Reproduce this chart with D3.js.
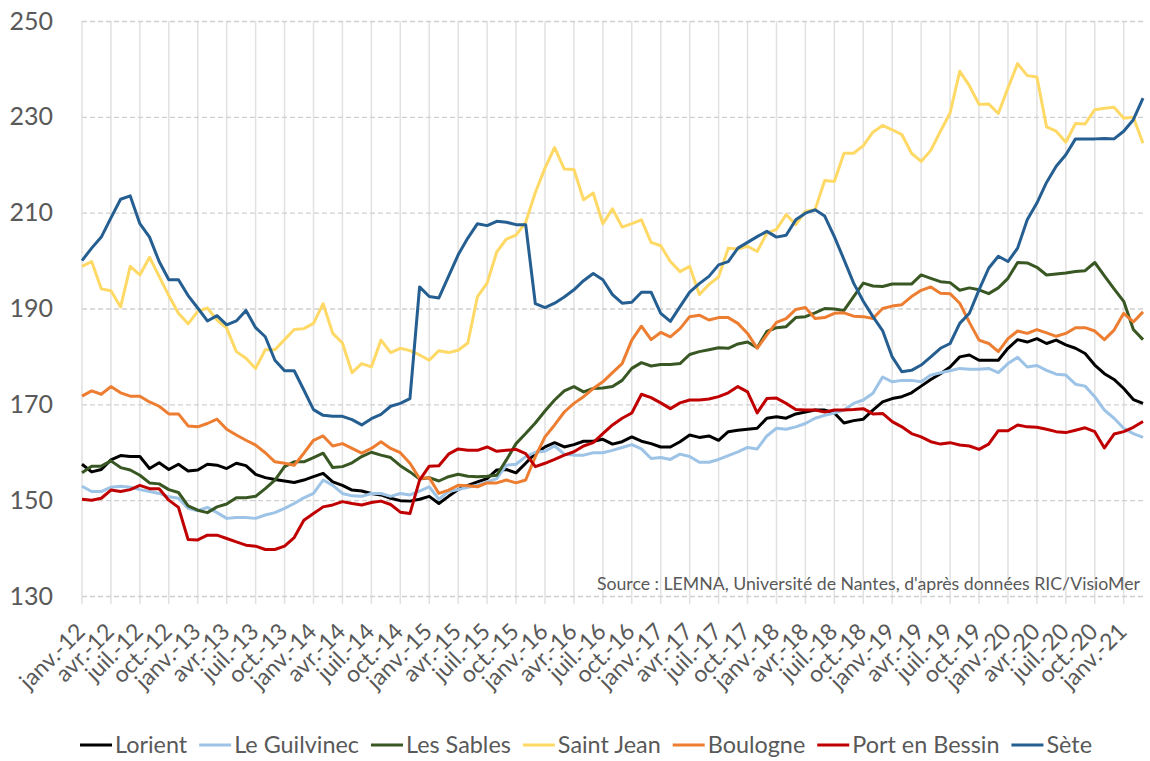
<!DOCTYPE html>
<html>
<head>
<meta charset="utf-8">
<script src="https://cdn.jsdelivr.net/npm/d3@7"></script>
<style>
  body { margin: 0; background: #fff; }
  svg { display: block; }
  text { font-family: Lato, "Open Sans", sans-serif; fill: #595959; }
</style>
</head>
<body>
<svg id="chart" width="1150" height="761"></svg>
<script>
// categories : one per month, janv.-12 .. mars-21
var monthAbbr = ["janv.", "févr.", "mars", "avr.", "mai", "juin", "juil.", "août", "sept.", "oct.", "nov.", "déc."];
var years = ["12", "13", "14", "15", "16", "17", "18", "19", "20", "21"];
var nMonths = 111;

var months = [];
years.forEach(function (y) {
  monthAbbr.forEach(function (m) { months.push(m + "-" + y); });
});
months = months.slice(0, nMonths);

// y axis ticks
var yTicks = [130, 150, 170, 190, 210, 230, 250];

// series values
var lorient = [157.5,155.9,156.4,158.4,159.3,159.1,159.1,156.6,157.8,156.4,157.5,156.1,156.3,157.5,157.3,156.6,157.7,157.2,155.4,154.7,
  154.3,154,153.7,154.2,154.9,155.6,153.8,153.1,152.1,151.9,151.4,151.1,150.4,149.9,149.8,150.2,150.8,149.3,150.8,152.2,
  153.1,153.8,154.5,156.3,156.4,155.7,157.7,159.8,161.1,162,161.1,161.6,162.3,162.3,162.7,161.7,162.2,163.2,162.3,161.8,
  161.1,161.1,162.2,163.6,163.1,163.4,162.5,164.3,164.6,164.8,165,167.1,167.4,167.1,168,168.4,168.8,168.8,168.2,166.1,
  166.6,166.9,168.8,170.5,171.2,171.6,172.4,173.8,175.2,176.4,177.8,179.9,180.3,179.2,179.2,179.2,181.7,183.5,183,183.7,
  182.7,183.4,182.4,181.7,180.6,178.2,176.4,175.2,173.3,171,170.2];

var guilvinec = [152.9,151.8,151.8,152.7,152.9,152.7,152.2,151.8,151.4,150.7,150.4,148.3,147.8,148.5,147.4,146.2,146.4,146.4,146.2,146.9,
  147.4,148.3,149.3,150.5,151.4,154.2,153.1,151.4,150.9,150.8,151.4,151.4,150.8,151.4,151.1,151.9,152.8,150.2,151.8,152.2,
  152.7,153.1,153.8,154.5,157.3,157.5,159.1,160,160.2,161.3,159.6,159.4,159.4,159.9,159.9,160.4,161,161.6,160.7,158.7,
  158.9,158.5,159.6,159.1,157.9,157.9,158.5,159.3,160.1,161,160.7,163.4,165,164.8,165.3,166,167.1,167.7,168.2,168.8,
  170.2,170.9,172.3,175.7,174.7,175,175,174.7,176.1,176.6,177,177.5,177.3,177.3,177.5,176.6,178.5,179.8,177.8,178.1,
  177.1,176.3,176.1,174.2,173.8,171.6,168.8,167.1,165,163.9,163.1];

var sables = [155.7,157.1,157.1,158.2,156.8,156.3,155.2,153.6,153.4,152.2,151.6,148.8,147.9,147.4,148.6,149.2,150.5,150.5,150.8,152.4,
  154.2,157,158,158,158.9,159.8,156.8,157,157.8,159.1,160,159.4,158.9,157.2,155.9,154.4,154.7,154,154.9,155.4,
  155,154.9,155,155.2,158.4,161.8,163.9,166.1,168.6,170.9,172.8,173.7,172.6,173.3,173.4,173.7,175,177.5,178.7,178,
  178.3,178.3,178.5,180.4,181,181.4,181.8,181.7,182.6,183,181.8,185.2,186,186.2,188.1,188.3,189.1,190,189.9,189.6,
  192.5,195.3,194.7,194.6,195.1,195.1,195.1,197,196.3,195.6,195.4,193.8,194.3,193.9,193.1,194.3,196.3,199.6,199.5,198.6,
  197,197.2,197.4,197.7,197.9,199.6,196.8,194.1,191.5,185.6,183.5];

var saintJean = [198.8,199.8,194.1,193.7,190.3,198.8,197,200.7,196.7,192.7,189,186.8,189.4,190.1,187.6,185.9,181,179.6,177.5,181.4,
  181.4,183.5,185.6,185.8,186.9,191,184.8,182.8,176.6,178.5,177.8,183.4,180.8,181.7,181.2,180.3,179.2,181.2,180.8,181.3,
  182.8,192.5,195.3,201.8,204.5,205.3,208,214.2,219.3,223.6,219.1,219,212.7,214.1,207.7,210.8,207,207.7,208.5,203.8,
  203.1,199.8,197.7,198.8,192.9,195,196.6,202.6,202.4,203,201.9,205.7,206.5,209.6,207.5,210.3,210.6,216.7,216.5,222.4,
  222.4,224,226.8,228.2,227.3,226.3,222.4,220.7,223,227,230.8,239.5,236.5,232.6,232.7,230.7,236,241.1,238.6,238.3,
  227.9,227,224.7,228.6,228.5,231.5,231.8,232,229.7,229.9,224.5];

var boulogne = [171.7,172.8,172.1,173.7,172.4,171.7,171.7,170.5,169.6,168,168,165.5,165.3,166,166.9,164.8,163.6,162.5,161.5,159.9,
  158,157.7,157.3,159.8,162.5,163.4,161.3,161.8,160.8,159.8,160.8,162.2,160.8,159.9,157.7,154.5,154.7,151.4,152.1,153.1,
  153,152.8,153.6,153.6,154.2,153.6,154.2,159.1,163.2,165.7,168.4,170.2,171.6,173.3,174.7,176.6,178.5,183.4,186.3,183.5,
  185,184.1,185.8,188.3,188.6,187.6,188.1,188.1,186.9,184.8,181.7,184.5,187.1,187.9,189.8,190.2,187.9,188.1,189,189.1,
  188.4,188.3,187.9,190,190.5,190.8,192.5,193.8,194.5,193.2,193.1,191.1,187.1,183.4,182.7,181,183.7,185.3,184.8,185.6,
  184.9,184.2,184.8,186,186,185.3,183.5,185.5,189,187.2,189.3];

var portEnBessin = [150.2,150,150.4,152.1,151.8,152.2,153.1,152.4,152.4,150,148.5,141.8,141.7,142.7,142.7,142,141.3,140.6,140.4,139.7,
  139.7,140.4,142.2,145.8,147.2,148.6,149,149.7,149.3,149,149.5,149.8,149.1,147.5,147.2,154.2,157.1,157.2,159.6,160.7,
  160.4,160.4,161.1,160.2,160.4,160.6,159.7,157,157.7,158.5,159.4,160.1,161.3,162,163.9,165.7,167.1,168.2,172.1,171.4,
  170.3,169.1,170.3,170.9,170.9,171.1,171.6,172.4,173.7,172.6,168.2,171.2,171.3,170.2,168.9,168.8,168.8,168.4,168.8,168.8,
  168.9,169.1,168,168.1,166.4,165.3,163.9,163.2,162.2,161.7,162,161.5,161.3,160.6,161.7,164.5,164.5,165.7,165.3,165.2,
  164.8,164.3,164.1,164.6,165.1,164.3,160.9,163.8,164.3,165.2,166.4];

var sete = [200,202.6,204.9,208.9,212.8,213.5,207.7,204.9,199.8,196,196,192.7,190.1,187.4,188.5,186.6,187.4,189.6,186,184.1,
  179.2,177,177,173,168.9,167.7,167.5,167.5,166.8,165.7,167,167.9,169.6,170.2,171.2,194.5,192.5,192.2,196.7,201.2,
  204.7,207.7,207.3,208.2,208,207.5,207.5,191,190.2,191.1,192.4,193.9,195.8,197.3,196,192.9,191.1,191.3,193.4,193.4,
  189,187.3,190.4,193.4,195.2,196.7,199.1,199.8,202.6,203.8,205,206.1,204.9,205.3,208.5,209.9,210.6,209.3,205,200.2,
  195.3,191.5,188.3,185.4,179.9,176.8,177.1,178.2,179.9,181.7,182.7,186.9,189,193.9,198.4,200.9,199.8,202.6,208.5,212,
  216.3,219.7,222.1,225.4,225.4,225.4,225.5,225.4,227,229.4,233.9];

var seriesNames = ["Lorient", "Le Guilvinec", "Les Sables", "Saint Jean", "Boulogne", "Port en Bessin", "Sète"];
var seriesValues = [lorient, guilvinec, sables, saintJean, boulogne, portEnBessin, sete];
var seriesColors = ["#000000", "#9dc3e6", "#385723", "#ffd966", "#ed7d31", "#c00000", "#255e91"];

var sourceText = "Source : LEMNA, Université de Nantes, d'après données RIC/VisioMer";

// plot box (note: "top" is a reserved window property, so prefixed names)
var plotLeft = 82, plotRight = 1143, plotTop = 21, plotBottom = 596;

var svg = d3.select("#chart");

var x = d3.scalePoint().domain(months).range([plotLeft, plotRight]);
var y = d3.scaleLinear().domain([130, 250]).range([plotBottom, plotTop]);

var tickMonths = months.filter(function (d, i) { return i % 3 === 0; });

// vertical gridlines, running a little below the axis like tick marks
svg.append("g")
  .selectAll("line")
  .data(tickMonths)
  .join("line")
    .attr("x1", function (d) { return x(d); })
    .attr("x2", function (d) { return x(d); })
    .attr("y1", plotTop)
    .attr("y2", plotBottom + 8)
    .attr("stroke", "#e1e1e1")
    .attr("stroke-width", 1.5);

// horizontal dashed gridlines + y labels
var yAxis = svg.append("g")
  .attr("transform", "translate(" + plotLeft + ",0)")
  .call(d3.axisLeft(y).tickValues(yTicks).tickSize(-(plotRight - plotLeft)).tickPadding(29));
yAxis.select(".domain").remove();
yAxis.selectAll(".tick line")
  .attr("stroke", "#d0d0d0")
  .attr("stroke-width", 1.3)
  .attr("stroke-dasharray", "5,3");
yAxis.selectAll(".tick text")
  .style("font-size", "25px")
  .attr("fill", "#595959");

// x labels, rotated
var xAxis = svg.append("g")
  .attr("transform", "translate(0," + plotBottom + ")")
  .call(d3.axisBottom(x).tickValues(tickMonths).tickSize(0));
xAxis.select(".domain").remove();
xAxis.selectAll(".tick text")
  .attr("y", 0)
  .attr("dy", 0)
  .attr("text-anchor", "end")
  .attr("transform", "translate(4,37) rotate(-45)")
  .style("font-size", "23px")
  .attr("fill", "#595959");

// lines
var line = d3.line()
  .x(function (d, i) { return x(months[i]); })
  .y(function (d) { return y(d); });

svg.append("g")
  .selectAll("path")
  .data(seriesValues)
  .join("path")
    .attr("d", line)
    .attr("fill", "none")
    .attr("stroke", function (d, i) { return seriesColors[i]; })
    .attr("stroke-width", 3)
    .attr("stroke-linejoin", "round");

// source note
svg.append("text")
  .attr("x", 1140)
  .attr("y", 590)
  .attr("text-anchor", "end")
  .style("font-size", "17.7px")
  .attr("fill", "#404040")
  .text(sourceText);

// legend, laid out left to right then centred
var legend = svg.append("g");
var cursor = 0;
seriesNames.forEach(function (name, i) {
  var item = legend.append("g").attr("transform", "translate(" + cursor + ",0)");
  item.append("line")
    .attr("x1", 0).attr("x2", 32)
    .attr("y1", 0).attr("y2", 0)
    .attr("stroke", seriesColors[i])
    .attr("stroke-width", 3);
  var t = item.append("text")
    .attr("x", 35)
    .attr("y", 0)
    .attr("dy", "0.35em")
    .style("font-size", "23.4px")
    .attr("fill", "#595959")
    .text(name);
  cursor += 35 + t.node().getComputedTextLength() + 12;
});
cursor -= 12;
legend.attr("transform", "translate(" + (586 - cursor / 2) + ",745)");
</script>
</body>
</html>
